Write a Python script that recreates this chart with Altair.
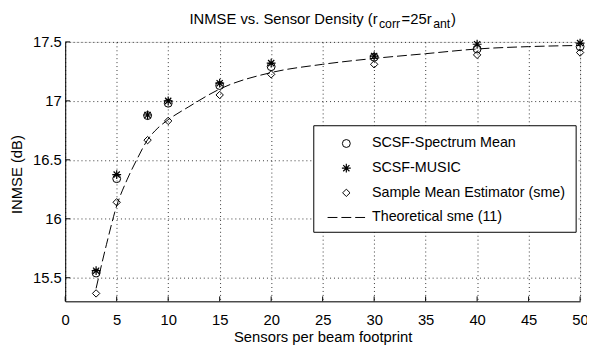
import altair as alt
import pandas as pd

FONT = "Liberation Sans"

# ---- data ----
sensors = [3, 5, 8, 10, 15, 20, 30, 40, 50]
spectrum_mean = [15.54, 16.34, 16.875, 16.98, 17.13, 17.29, 17.37, 17.44, 17.46]
music = [15.56, 16.375, 16.88, 17.0, 17.15, 17.32, 17.38, 17.48, 17.49]
sme = [15.367, 16.14, 16.667, 16.83, 17.05, 17.225, 17.31, 17.39, 17.41]

theory_x = [3, 4, 5, 6, 7, 8, 9, 10, 12, 15, 20, 25, 30, 35, 40, 45, 50]
theory_y = [15.41, 15.78, 16.11, 16.33, 16.51, 16.67, 16.77, 16.84, 16.95,
            17.10, 17.24, 17.31, 17.36, 17.40, 17.44, 17.46, 17.47]

x_ticks = [0, 5, 10, 15, 20, 25, 30, 35, 40, 45, 50]
y_ticks = [15.5, 16, 16.5, 17, 17.5]

legend_labels = ["SCSF-Spectrum Mean", "SCSF-MUSIC",
                 "Sample Mean Estimator (sme)", "Theoretical sme (11)"]

title_parts = ["INMSE vs. Sensor Density (r", "corr", "=25r", "ant", ")"]

W, H = 522, 263
ASTERISK = "M0,-1L0,1M-1,0L1,0M-0.7,-0.7L0.7,0.7M-0.7,0.7L0.7,-0.7"

pts = pd.DataFrame({"x": sensors, "spec": spectrum_mean, "music": music, "sme": sme})
theo = pd.DataFrame({"x": theory_x, "y": theory_y})

xscale = alt.Scale(domain=[0, 50], nice=False, zero=False)
yscale = alt.Scale(domain=[15.3, 17.5], nice=False, zero=False)

x_axis = alt.Axis(values=x_ticks, grid=True, gridColor="black", gridDash=[1, 3],
                  gridOpacity=0.8, tickSize=0, labelPadding=11, labelFontSize=15,
                  labelFont=FONT, labelColor="black", domainColor="black",
                  title="Sensors per beam footprint", titleFont=FONT, titleFontSize=15,
                  titleFontWeight="normal", titleColor="black", titleBaseline="alphabetic",
                  titleY=41, titleX=W / 2, labelFlush=False, labelOverlap=False)
y_axis = alt.Axis(values=y_ticks, grid=True, gridColor="black", gridDash=[1, 3],
                  gridOpacity=0.8, tickSize=0, labelPadding=4, labelFontSize=15,
                  labelFont=FONT, labelColor="black", domainColor="black", format="~g",
                  title="INMSE (dB)", titleFont=FONT, titleFontSize=15,
                  titleFontWeight="normal", titleColor="black", titleAngle=270,
                  titleBaseline="middle", titleAlign="center", titleX=-49.5, titleY=134,
                  labelFlush=False, labelOverlap=False)

base = alt.Chart(pts)

theory_line = alt.Chart(theo).mark_line(
    color="black", strokeWidth=1, strokeDash=[10, 4], interpolate="monotone"
).encode(x=alt.X("x:Q", scale=xscale, axis=x_axis), y=alt.Y("y:Q", scale=yscale, axis=y_axis))

circles = base.mark_point(shape="circle", size=64, filled=False, color="black",
                          strokeWidth=1, opacity=1).encode(
    x=alt.X("x:Q", scale=xscale), y=alt.Y("spec:Q", scale=yscale))
stars = base.mark_point(shape=ASTERISK, size=81, filled=False, color="black",
                        strokeWidth=1.2, opacity=1).encode(
    x=alt.X("x:Q", scale=xscale), y=alt.Y("music:Q", scale=yscale))
diamonds = base.mark_point(shape="diamond", size=56, filled=False, color="black",
                           strokeWidth=1, opacity=1).encode(
    x=alt.X("x:Q", scale=xscale), y=alt.Y("sme:Q", scale=yscale))

# inward ticks
xt = alt.Chart(pd.DataFrame({"t": x_ticks})).mark_rule(color="black", strokeWidth=1).encode(
    x=alt.X("t:Q", scale=xscale), y=alt.value(H), y2=alt.value(H - 5))
yt = alt.Chart(pd.DataFrame({"t": y_ticks})).mark_rule(color="black", strokeWidth=1).encode(
    y=alt.Y("t:Q", scale=yscale), x=alt.value(0), x2=alt.value(5))

# legend
one = pd.DataFrame({"a": [0]})
LX0, LX1, LY0, LY1 = 252, 518, 85, 193
LEG_Y = [103, 128, 153, 178]
SYM_X = 285
TXT_X = 311
legend_layers = [
    alt.Chart(one).mark_rect(fill="white", stroke="black", strokeWidth=1).encode(
        x=alt.value(LX0), x2=alt.value(LX1), y=alt.value(LY0), y2=alt.value(LY1)),
    alt.Chart(one).mark_point(shape="circle", size=64, filled=False, color="black",
                              strokeWidth=1, opacity=1).encode(
        x=alt.value(SYM_X), y=alt.value(LEG_Y[0])),
    alt.Chart(one).mark_point(shape=ASTERISK, size=81, filled=False, color="black",
                              strokeWidth=1.2, opacity=1).encode(
        x=alt.value(SYM_X), y=alt.value(LEG_Y[1])),
    alt.Chart(one).mark_point(shape="diamond", size=56, filled=False, color="black",
                              strokeWidth=1, opacity=1).encode(
        x=alt.value(SYM_X), y=alt.value(LEG_Y[2])),
    alt.Chart(one).mark_rule(color="black", strokeWidth=1, strokeDash=[10, 4]).encode(
        x=alt.value(266), x2=alt.value(305), y=alt.value(LEG_Y[3])),
]
for i, lab in enumerate(legend_labels):
    legend_layers.append(
        alt.Chart(pd.DataFrame({"label": [lab]})).mark_text(
            align="left", baseline="middle", font=FONT, fontSize=14.5, color="black"
        ).encode(x=alt.value(TXT_X), y=alt.value(LEG_Y[i]), text="label:N"))

# title with subscripts (plot-relative pixel positions of each piece)
title_pos = [(126, -18, 15), (318, -14, 12.5), (341, -18, 15), (373, -14, 12.5), (391, -18, 15)]
title_layers = []
for part, (tx, ty, fs) in zip(title_parts, title_pos):
    title_layers.append(
        alt.Chart(pd.DataFrame({"s": [part]})).mark_text(
            align="left", baseline="alphabetic", font=FONT, fontSize=fs, color="black"
        ).encode(x=alt.value(tx), y=alt.value(ty), text="s:N"))

chart = alt.layer(
    theory_line, xt, yt, circles, stars, diamonds, *legend_layers, *title_layers
).properties(
    width=W, height=H,
    autosize=alt.AutoSizeParams(type="none"),
    padding={"left": 58, "top": 32, "right": 7, "bottom": 49},
).configure_view(stroke=None).configure(background="white")

chart.save("out.html", embed_options={"renderer": "svg", "actions": False})
